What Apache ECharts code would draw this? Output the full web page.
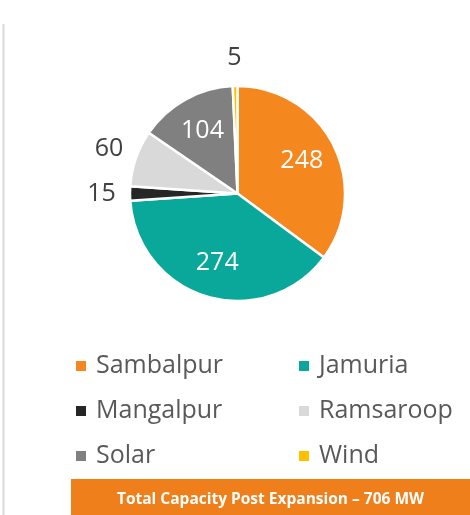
<!DOCTYPE html>
<html>
<head>
<meta charset="utf-8">
<title>Capacity by plant</title>
<script src="https://cdn.jsdelivr.net/npm/echarts@6/dist/echarts.min.js"></script>
<style>
  html, body { margin: 0; padding: 0; background: #ffffff; }
  #chart { width: 470px; height: 515px; }
</style>
</head>
<body>
<div id="chart"></div>
<script>
// Installed capacity per plant, MW
const categories = ['Sambalpur', 'Jamuria', 'Mangalpur', 'Ramsaroop', 'Solar', 'Wind'];
const capacityMW = [248, 274, 15, 60, 104, 5];
const sliceColors = ['#F5871F', '#0AA89A', '#262626', '#D9D9D9', '#808080', '#FFC000'];
// Plants whose value sits inside the slice; the rest are labelled outside the rim
const insideLabelled = ['Sambalpur', 'Jamuria', 'Solar'];
const legendColumns = [
  ['Sambalpur', 'Mangalpur', 'Solar'],
  ['Jamuria', 'Ramsaroop', 'Wind']
];

const totalMW = capacityMW.reduce((a, b) => a + b, 0);
const bannerText = 'Total Capacity Post Expansion \u2013 ' + totalMW + ' MW';

const FONT = '"Open Sans", "DejaVu Sans", sans-serif';
const CENTER = [237.5, 193.5];

const sliceData = categories.map((name, i) => ({
  name: name,
  value: capacityMW[i],
  itemStyle: { color: sliceColors[i] }
}));

// Transparent ring used only to place value labels at a given distance from the centre
function labelRing(radius, names, color) {
  return {
    type: 'pie',
    center: CENTER,
    radius: [0, radius],
    startAngle: 90,
    clockwise: true,
    silent: true,
    legendHoverLink: false,
    animation: false,
    z: 3,
    itemStyle: { color: 'rgba(0,0,0,0)', borderWidth: 0 },
    emphasis: { disabled: true },
    labelLine: { show: false },
    data: categories.map((name, i) => ({
      name: name,
      value: capacityMW[i],
      label: {
        show: names.indexOf(name) >= 0,
        position: 'inside',
        formatter: '{c}',
        color: color,
        fontFamily: FONT,
        fontSize: 25
      }
    }))
  };
}

const legendBase = {
  orient: 'vertical',
  icon: 'rect',
  padding: 0,
  itemWidth: 12,
  itemHeight: 12,
  itemGap: 15,
  selectedMode: false,
  textStyle: {
    fontFamily: FONT,
    fontSize: 25,
    lineHeight: 30,
    color: '#595959',
    padding: [0, 0, 0, 4]
  }
};

const chart = echarts.init(document.getElementById('chart'), null, { renderer: 'canvas' });

chart.setOption({
  animation: false,
  backgroundColor: '#ffffff',
  legend: [
    Object.assign({}, legendBase, { left: 74, top: 351, data: legendColumns[0] }),
    Object.assign({}, legendBase, { left: 297, top: 351, data: legendColumns[1] })
  ],
  graphic: [
    {
      type: 'line',
      shape: { x1: 3.5, y1: 24, x2: 3.5, y2: 515 },
      style: { stroke: '#D9D9D9', lineWidth: 2 },
      silent: true
    },
    {
      type: 'rect',
      shape: { x: 71, y: 479, width: 399, height: 36 },
      style: { fill: '#EF7F1A' },
      silent: true
    },
    {
      type: 'text',
      x: 270.5,
      y: 500,
      style: {
        text: bannerText,
        fill: '#ffffff',
        font: 'bold 15.5px ' + FONT,
        textAlign: 'center',
        textVerticalAlign: 'middle'
      },
      silent: true
    }
  ],
  series: [
    {
      type: 'pie',
      name: 'Capacity',
      center: CENTER,
      radius: [0, 107.5],
      startAngle: 90,
      clockwise: true,
      animation: false,
      z: 2,
      itemStyle: { borderColor: '#ffffff', borderWidth: 2.5 },
      label: { show: false },
      labelLine: { show: false },
      emphasis: { disabled: true },
      data: sliceData
    },
    labelRing(138, insideLabelled, '#ffffff'),
    labelRing(266, categories.filter(n => insideLabelled.indexOf(n) < 0), '#404040')
  ]
});
</script>
</body>
</html>
